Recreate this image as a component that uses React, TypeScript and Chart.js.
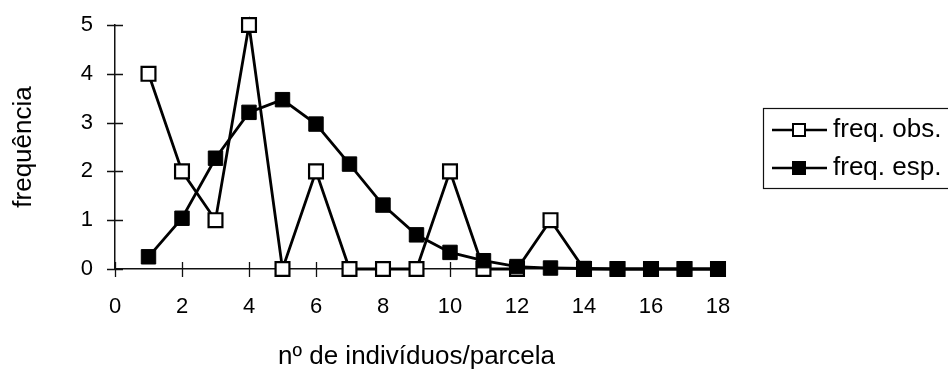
import React, { useEffect, useRef } from "react";
import { Chart, registerables } from "chart.js";

Chart.register(...registerables);

// ---- data ----
const categories = [1, 2, 3, 4, 5, 6, 7, 8, 9, 10, 11, 12, 13, 14, 15, 16, 17, 18];
const obsValues = [4, 2, 1, 5, 0, 2, 0, 0, 0, 2, 0, 0, 1, 0, 0, 0, 0, 0];
const espValues = [0.25, 1.04, 2.27, 3.21, 3.47, 2.97, 2.15, 1.31, 0.7, 0.34, 0.17, 0.05, 0.02, 0.01, 0, 0, 0, 0];
const xTickValues = [0, 2, 4, 6, 8, 10, 12, 14, 16, 18];
const yTickValues = [0, 1, 2, 3, 4, 5];
const seriesLabels = ["freq. obs.", "freq. esp."];
const xTitle = "nº de indivíduos/parcela";
const yTitle = "frequência";

const FONT = "'Liberation Sans', Arial, Helvetica, sans-serif";

const crossTicks = {
  id: "crossTicks",
  beforeDatasetsDraw(chart: any) {
    const { ctx, scales } = chart;
    const xs = scales.x;
    const ys = scales.y;
    const x0 = xs.getPixelForValue(0);
    const y0 = ys.getPixelForValue(0);
    ctx.save();
    ctx.strokeStyle = "#111";
    ctx.lineWidth = 1.3;
    ctx.beginPath();
    xs.ticks.forEach((t: any) => {
      const px = Math.round(xs.getPixelForValue(t.value)) + 0.5;
      ctx.moveTo(px, y0 - 7);
      ctx.lineTo(px, y0 + 8);
    });
    ys.ticks.forEach((t: any) => {
      const py = Math.round(ys.getPixelForValue(t.value)) + 0.5;
      ctx.moveTo(x0 - 8, py);
      ctx.lineTo(x0 + 8, py);
    });
    ctx.stroke();
    ctx.restore();
  },
};

const boxLegend = {
  id: "boxLegend",
  afterDraw(chart: any) {
    const { ctx } = chart;
    const bx = 763;
    const by = 108;
    const bw = 200;
    const bh = 80;
    ctx.save();
    ctx.strokeStyle = "#111";
    ctx.lineWidth = 1.2;
    ctx.strokeRect(bx + 0.5, by + 0.5, bw, bh);
    const rows = [130, 168];
    chart.data.datasets.forEach((ds: any, i: number) => {
      const ry = rows[i];
      ctx.strokeStyle = "#000";
      ctx.lineWidth = 2.5;
      ctx.beginPath();
      ctx.moveTo(772, ry);
      ctx.lineTo(827, ry);
      ctx.stroke();
      const s = 12;
      ctx.fillStyle = ds.pointBackgroundColor;
      ctx.fillRect(799 - s / 2, ry - s / 2, s, s);
      ctx.lineWidth = 2;
      ctx.strokeRect(799 - s / 2, ry - s / 2, s, s);
      ctx.fillStyle = "#000";
      ctx.font = `26px ${FONT}`;
      ctx.textBaseline = "middle";
      ctx.textAlign = "left";
      ctx.fillText(ds.label, 833, ry);
    });
    ctx.restore();
  },
};

export default function App() {
  const canvasRef = useRef<HTMLCanvasElement | null>(null);

  useEffect(() => {
    if (!canvasRef.current) return;
    const chart = new Chart(canvasRef.current, {
      type: "line",
      data: {
        datasets: [
          {
            label: seriesLabels[0],
            data: categories.map((c, i) => ({ x: c, y: obsValues[i] })),
            borderColor: "#000",
            borderWidth: 2.8,
            pointStyle: "rect",
            pointRadius: 9.8,
            pointBorderWidth: 2.2,
            pointBackgroundColor: "#fff",
            pointBorderColor: "#000",
            tension: 0,
            clip: false,
            order: 2,
          },
          {
            label: seriesLabels[1],
            data: categories.map((c, i) => ({ x: c, y: espValues[i] })),
            borderColor: "#000",
            borderWidth: 2.8,
            pointStyle: "rect",
            pointRadius: 10.2,
            pointBorderWidth: 1,
            pointBackgroundColor: "#000",
            pointBorderColor: "#000",
            tension: 0,
            clip: false,
            order: 1,
          },
        ],
      },
      options: {
        animation: false,
        responsive: false,
        devicePixelRatio: 1,
        layout: { padding: { left: 0, right: 230, top: 25, bottom: 0 } },
        plugins: {
          legend: { display: false },
          tooltip: { enabled: false },
        },
        scales: {
          x: {
            type: "linear",
            min: 0,
            max: 18,
            afterBuildTicks: (scale: any) => {
              scale.ticks = xTickValues.map((v) => ({ value: v }));
            },
            afterFit: (scale: any) => {
              scale.height = 104;
            },
            grid: { display: true, drawOnChartArea: false, drawTicks: false },
            border: { display: true, color: "#111", width: 1.5 },
            ticks: {
              color: "#000",
              padding: 25,
              maxRotation: 0,
              autoSkip: false,
              font: { family: FONT, size: 22 },
            },
            title: {
              display: true,
              text: xTitle,
              color: "#000",
              font: { family: FONT, size: 26 },
              padding: { top: 0, bottom: 1 },
            },
          },
          y: {
            type: "linear",
            min: 0,
            max: 5,
            afterBuildTicks: (scale: any) => {
              scale.ticks = yTickValues.map((v) => ({ value: v }));
            },
            afterFit: (scale: any) => {
              scale.width = 115;
            },
            grid: {
              display: true,
              drawOnChartArea: false,
              drawTicks: true,
              tickLength: 20,
              tickColor: "rgba(0,0,0,0)",
            },
            border: { display: true, color: "#111", width: 1.5 },
            ticks: {
              color: "#000",
              padding: 2,
              font: { family: FONT, size: 22 },
            },
            title: {
              display: true,
              text: yTitle,
              color: "#000",
              font: { family: FONT, size: 26 },
              padding: { top: 8, bottom: 0 },
            },
          },
        },
      },
      plugins: [crossTicks, boxLegend],
    });
    return () => chart.destroy();
  }, []);

  return (
    <div style={{ position: "absolute", left: 0, top: 0, width: 948, height: 373, background: "#fff" }}>
      <canvas ref={canvasRef} width={948} height={373} style={{ display: "block" }} />
    </div>
  );
}
